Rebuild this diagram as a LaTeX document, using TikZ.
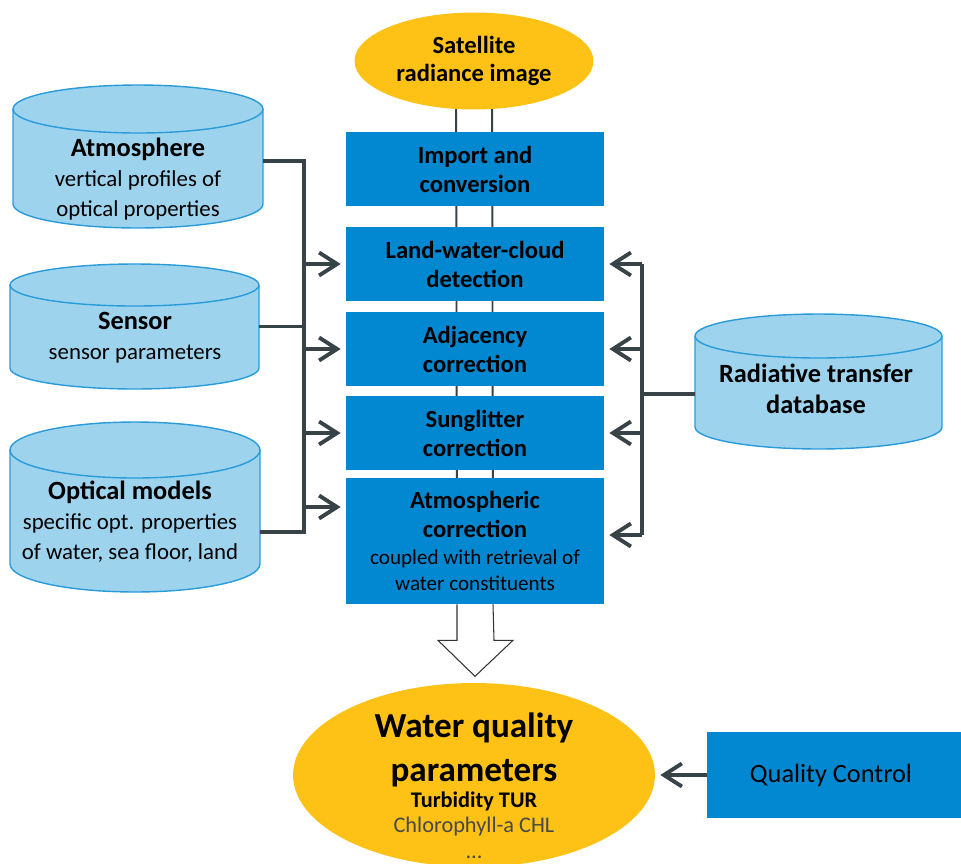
\documentclass[tikz,border=0pt]{standalone}
\usepackage{fontspec}
\setmainfont{Carlito}
\usepackage{tikz}
\usetikzlibrary{arrows.meta,shapes.geometric,backgrounds}
\definecolor{figline}{RGB}{56,67,71}
\definecolor{figblue}{RGB}{2,136,209}
\definecolor{figgold}{RGB}{254,194,22}
\definecolor{dbfill}{RGB}{158,211,238}
\definecolor{dbline}{RGB}{41,155,217}
\definecolor{figgrey}{RGB}{72,72,72}
\tikzset{
  stepbox/.style ={fill=figblue, minimum width=5.16cm, minimum height=1.48cm, inner sep=0pt,
                   align=center, font=\fontsize{14}{16.5}\selectfont\bfseries},
  goal/.style    ={ellipse, fill=figgold, inner sep=0pt},
  store/.style   ={minimum width=5cm, inner sep=0pt, outer sep=0pt},
  dbshape/.style ={draw=dbline, fill=dbfill, line width=0.8pt},
  storetxt/.style={align=center, inner sep=0pt, font=\fontsize{13}{17}\selectfont},
  bus/.style     ={draw=figline, line width=2.2pt},
  feed/.style    ={bus, -{Straight Barb[length=0.36cm,width=0.46cm]}, shorten >=0.1cm},
  rail/.style    ={draw=figline, line width=1.1pt},
  hollow/.style  ={draw=black!80, fill=white, line width=0.6pt, line join=miter},
}
% database drum round a node: name, half width, cap radius
\newcommand\dbcan[3]{%
  \draw[dbshape] ([yshift=-#3]#1.north west) -- ([yshift=#3]#1.south west)
    arc[start angle=180, end angle=360, x radius=#2, y radius=#3]
    -- ([yshift=-#3]#1.north east)
    arc[start angle=0, end angle=180, x radius=#2, y radius=#3] -- cycle;
  \draw[dbshape, fill=none] ([yshift=-#3]#1.north west)
    arc[start angle=180, end angle=360, x radius=#2, y radius=#3];
}
\begin{document}
\begin{tikzpicture}[x=0.02cm,y=-0.02cm]
  \useasboundingbox (0,0) rectangle (961,863);
  % processing chain
  \node[goal, minimum width=4.78cm, minimum height=1.94cm, align=center,
        font=\fontsize{14}{16}\selectfont\bfseries] (sat) at (474,61) {Satellite\\radiance image};
  \node[stepbox] (b1) at (475,169) {Import and\\conversion};
  \node[stepbox] (b2) at (475,264) {Land-water-cloud\\detection};
  \node[stepbox] (b3) at (475,349) {Adjacency\\correction};
  \node[stepbox] (b4) at (475,433) {Sunglitter\\correction};
  \node[stepbox, minimum height=2.52cm] (b5) at (475,541)
    {Atmospheric\\correction\\[-1pt]{\fontsize{12}{14}\selectfont\mdseries coupled with retrieval of}\\[-2pt]
     {\fontsize{12}{14}\selectfont\mdseries water constituents}};
  \begin{scope}[on background layer]
    \draw[rail] ([xshift=-0.36cm]sat.center) -- ([xshift=-0.36cm]b5.center);
    \draw[rail] ([xshift=0.36cm]sat.center) -- ([xshift=0.36cm]b5.center);
  \end{scope}
  % result
  \node[goal, minimum width=7.24cm, minimum height=3.68cm] (wq) at (474,775) {};
  \node[align=center, inner sep=0pt, font=\fontsize{20}{25}\selectfont\bfseries] (wqtitle) at (474,750)
    {Water quality\\parameters};
  \node[align=center, inner sep=0pt, font=\fontsize{12.7}{14.4}\selectfont] (wqlist) at (474,825)
    {\textbf{Turbidity TUR}\\\textcolor{figgrey}{Chlorophyll-a CHL}\\\textcolor{figgrey}{\dots}};
  \draw[hollow] ([xshift=-0.36cm]b5.south) -- ++(0,36) -- ++(-19,0) -- ([yshift=-1.44cm]b5.south)
    -- ++(38,-36) -- ++(-19,0) -- ([xshift=0.36cm]b5.south);
  \node[fill=figblue, minimum width=5.16cm, minimum height=1.72cm, inner sep=0pt,
        font=\fontsize{15}{18}\selectfont] (qc) at (836,775) {\hspace*{-0.2cm}Quality Control};
  \draw[feed] (qc.west) -- (wq.east);
  % input databases
  \node[store, minimum height=2.86cm] (atm) at (138,156.5) {};
  \dbcan{atm}{2.5cm}{0.48cm}
  \node[storetxt] (atmtxt) at (138,179)
    {{\fontsize{15}{17}\selectfont\bfseries Atmosphere}\\vertical profiles of\\optical properties};
  \node[store, minimum width=4.98cm, minimum height=2.5cm] (sen) at (134.5,326.5) {};
  \dbcan{sen}{2.49cm}{0.42cm}
  \node[storetxt] (sentxt) at (135,338)
    {{\fontsize{15}{17}\selectfont\bfseries Sensor}\\sensor parameters};
  \node[store, minimum height=3.4cm] (opt) at (135,507) {};
  \dbcan{opt}{2.5cm}{0.56cm}
  \node[storetxt] (opttxt) at (130,522)
    {{\fontsize{15}{17}\selectfont\bfseries Optical models}\\specific opt. properties\\of water, sea floor, land};
  \node[store, minimum width=4.94cm, minimum height=2.7cm] (rad) at (818.5,381.5) {};
  \dbcan{rad}{2.47cm}{0.44cm}
  \node[storetxt, font=\fontsize{15}{17.5}\selectfont\bfseries] (radtxt) at (816,389)
    {Radiative transfer\\database};
  % left bus
  \coordinate (ltop) at (304,161);
  \coordinate (lbot) at (304,532);
  \coordinate (b5in) at ([yshift=0.68cm]b5.west);
  \draw[bus] (atm.east |- ltop) -- (ltop) -- (lbot) -- (opt.east |- lbot);
  \draw[bus] (sen.east) -- (sen.east -| ltop);
  \draw[feed] (b2.west -| ltop) -- (b2.west);
  \draw[feed] (b3.west -| ltop) -- (b3.west);
  \draw[feed] (b4.west -| ltop) -- (b4.west);
  \draw[feed] (b5in -| ltop) -- (b5in);
  % right bus
  \coordinate (rtop) at (642,263);
  \coordinate (rbot) at (642,535);
  \coordinate (b5out) at ([yshift=0.12cm]b5.east);
  \coordinate (radin) at ([yshift=-0.25cm]rad.west);
  \draw[bus] (b2.east -| rtop) -- (rbot |- b5out);
  \draw[bus] (radin) -- (radin -| rtop);
  \draw[feed] (b2.east -| rtop) -- (b2.east);
  \draw[feed] (b3.east -| rtop) -- (b3.east);
  \draw[feed] (b4.east -| rtop) -- (b4.east);
  \draw[feed] (b5out -| rtop) -- (b5out);
\end{tikzpicture}
\end{document}
